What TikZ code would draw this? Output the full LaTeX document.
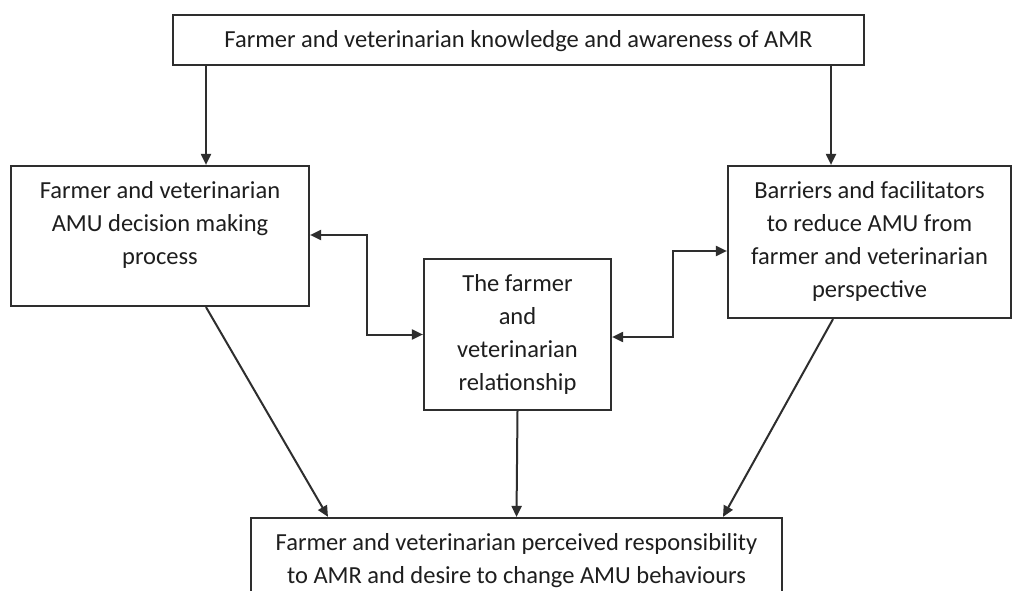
\documentclass[tikz,border=0pt]{standalone}
\usepackage{fontspec}
\setmainfont{Carlito}
\usetikzlibrary{arrows.meta}
\definecolor{linec}{HTML}{2E2E2E}
\definecolor{textc}{HTML}{1E1E1E}
\begin{document}
\begin{tikzpicture}[x=1pt,y=-1pt,
  box/.style={draw=linec, line width=2.2pt, rectangle, inner sep=0pt},
  txt/.style={align=center, text=textc, inner sep=0pt, font=\fontsize{24.5}{33}\selectfont},
  arr/.style={draw=linec, line width=2pt, -{Triangle[length=11pt,width=10pt]}},
  dbl/.style={draw=linec, line width=2pt, {Triangle[length=11pt,width=10pt]}-{Triangle[length=11pt,width=10pt]}}
]
\useasboundingbox[fill=white] (0,0) rectangle (1013,591);
% boxes
\node[box, minimum width=691pt, minimum height=50pt] (top) at (518.5,40) {};
\node[box, minimum width=298pt, minimum height=140pt] (left) at (160,236) {};
\node[box, minimum width=187pt, minimum height=151pt] (mid) at (517.5,334.5) {};
\node[box, minimum width=283pt, minimum height=152pt] (right) at (869.5,242) {};
\node[box, minimum width=531pt, minimum height=90pt] (bot) at (516.5,563) {};
% texts
\node[txt] (toptxt) at (518.5,41) {Farmer and veterinarian knowledge and awareness of AMR};
\node[txt] (lefttxt) at (160,225) {Farmer and veterinarian\\AMU decision making\\process};
\node[txt] (midtxt) at (517.5,334.5) {The farmer\\and\\veterinarian\\relationship};
\node[txt] (righttxt) at (869.5,241) {Barriers and facilitators\\to reduce AMU from\\farmer and veterinarian\\perspective};
\node[txt] (bottxt) at (516.5,561) {Farmer and veterinarian perceived responsibility\\to AMR and desire to change AMU behaviours};
% connectors
\draw[arr] ([xshift=-312.5pt]top.south) -- ([xshift=46pt]left.north);
\draw[arr] ([xshift=312.5pt]top.south) -- ([xshift=-38.5pt]right.north);
\draw[dbl] ([yshift=1pt]left.east) -- ++(57,0) |- (mid.west);
\draw[dbl] ([yshift=-2.5pt]mid.east) -- ++(61,0) |- ([yshift=-9pt]right.west);
\draw[arr] ([xshift=46pt]left.south) -- ([xshift=-188.5pt]bot.north);
\draw[arr] (mid.south) -- (bot.north);
\draw[arr] ([xshift=-36.5pt]right.south) -- ([xshift=206.5pt]bot.north);
\end{tikzpicture}
\end{document}
